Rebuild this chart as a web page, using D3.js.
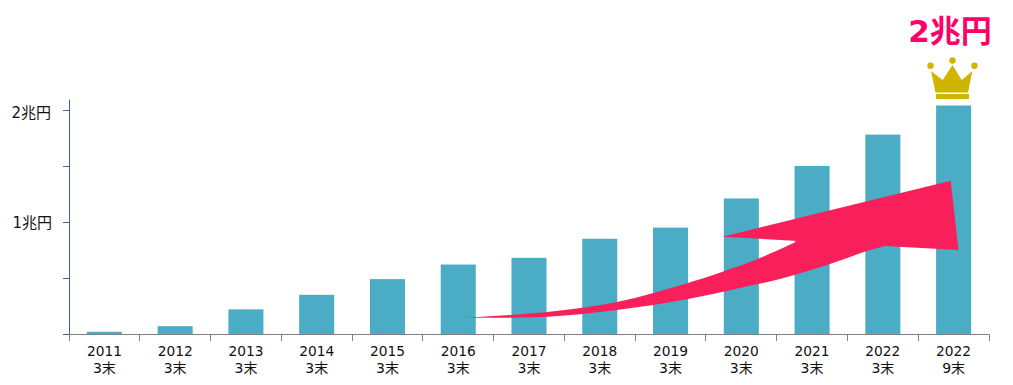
<!DOCTYPE html>
<html lang="ja">
<head>
<meta charset="utf-8">
<script src="https://cdn.jsdelivr.net/npm/d3@7"></script>
<style>
  html, body { margin: 0; padding: 0; background: #fff; }
  svg { display: block; }
  text { font-family: "DejaVu Sans", "Noto Sans CJK JP", sans-serif; }
</style>
</head>
<body>
<div id="chart"></div>
<script>
// values in 兆円
const years = ["2011", "2012", "2013", "2014", "2015", "2016", "2017", "2018", "2019", "2020", "2021", "2022", "2022"];
const months = ["3末", "3末", "3末", "3末", "3末", "3末", "3末", "3末", "3末", "3末", "3末", "3末", "9末"];
const balances = [0.02, 0.07, 0.22, 0.35, 0.49, 0.62, 0.68, 0.85, 0.95, 1.21, 1.50, 1.78, 2.04];
const yTicks = [0, 0.5, 1, 1.5, 2];
const yLabels = ["", "", "1兆円", "", "2兆円"];
const headline = "2兆円";

const margin = {top: 99, right: 24, bottom: 51, left: 69},
      width = 1013 - margin.left - margin.right,
      height = 385 - margin.top - margin.bottom;

const svg = d3.select("#chart").append("svg")
    .attr("width", 1013)
    .attr("height", 385);

const g = svg.append("g")
    .attr("transform", `translate(${margin.left},${margin.top})`);

const x = d3.scaleBand()
    .domain(d3.range(years.length))
    .range([0, width])
    .paddingInner(0.505)
    .paddingOuter(0.2525);

const y = d3.scaleLinear()
    .domain([0, 2.098])
    .range([height, 0]);

// Bars
g.selectAll(".bar")
    .data(balances)
    .enter()
    .append("rect")
    .attr("class", "bar")
    .attr("x", (d, i) => x(i))
    .attr("y", d => y(d))
    .attr("width", x.bandwidth())
    .attr("height", d => height - y(d))
    .attr("fill", "#4bacc6");

// Y axis
const yAxis = g.append("g")
    .call(d3.axisLeft(y).tickValues(yTicks).tickSize(6).tickSizeOuter(0)
        .tickFormat((d, i) => yLabels[i]));
yAxis.selectAll("path, line").attr("stroke", "#3f6391");
yAxis.selectAll("text")
    .attr("x", d => d === 2 ? -18 : -17)
    .attr("y", d => d === 2 ? 2 : 0)
    .attr("dy", "0.36em")
    .attr("font-size", 15)
    .attr("fill", "#111");

// X axis: ticks sit on the category boundaries, labels in the middle
const xAxis = g.append("g")
    .attr("transform", `translate(0,${height})`)
    .call(d3.axisBottom(x).tickSize(0).tickSizeOuter(7).tickFormat(""));
xAxis.select("path").attr("stroke", "#808080");

xAxis.selectAll(".boundary")
    .data(d3.range(years.length - 1))
    .enter()
    .append("line")
    .attr("class", "boundary")
    .attr("x1", i => Math.floor(x(i + 1) - x.step() * 0.2525) + 0.5)
    .attr("x2", i => Math.floor(x(i + 1) - x.step() * 0.2525) + 0.5)
    .attr("y2", 7)
    .attr("stroke", "#808080");

const xLabels = xAxis.selectAll(".xlabel")
    .data(years)
    .enter()
    .append("text")
    .attr("class", "xlabel")
    .attr("text-anchor", "middle")
    .attr("fill", "#111")
    .attr("transform", (d, i) => `translate(${x(i) + x.bandwidth() / 2},0)`);
xLabels.append("tspan").attr("x", 0).attr("y", 22).attr("font-size", 13.75).text(d => d);
xLabels.append("tspan").attr("x", 0).attr("y", 38.5).attr("font-size", 14).text((d, i) => months[i]);

// Rising arrow drawn over the bars, edges traced through a few points
const edge = d3.line().curve(d3.curveCatmullRom.alpha(0.5));
const upperEdge = edge([[465, 317.7], [547, 312], [617, 302], [688, 283], [739, 266], [760, 258], [798, 241]]);
const lowerEdge = edge([[885, 246], [867, 251], [827, 265], [780, 279], [740, 288], [688, 299], [617, 310], [547, 316.7], [465, 317.7]]);
svg.append("path")
    .attr("d", upperEdge + "L722.7,236.7L950.7,180.7L958.5,250L885,246" + lowerEdge.replace(/^M[^C]*/, "") + "Z")
    .attr("fill", "#f91f5a");

// Crown above the last bar
const crown = svg.append("g").attr("fill", "#cfb500");
crown.append("path")
    .attr("d", "M935.5,92.5 L931,71 L942.7,80 L952.5,65 L961.7,80 L972.3,71 L968,92.5 Z");
crown.append("rect")
    .attr("x", 936).attr("y", 94)
    .attr("width", 33).attr("height", 5);
crown.selectAll("circle")
    .data([[930.5, 65.7], [952.5, 60.5], [974.5, 65.7]])
    .enter()
    .append("circle")
    .attr("cx", d => d[0])
    .attr("cy", d => d[1])
    .attr("r", 3.2);

svg.append("text")
    .attr("x", 950)
    .attr("y", 42)
    .attr("text-anchor", "middle")
    .attr("font-size", 31)
    .attr("font-weight", "bold")
    .attr("fill", "#ff0066")
    .text(headline);
</script>
</body>
</html>
